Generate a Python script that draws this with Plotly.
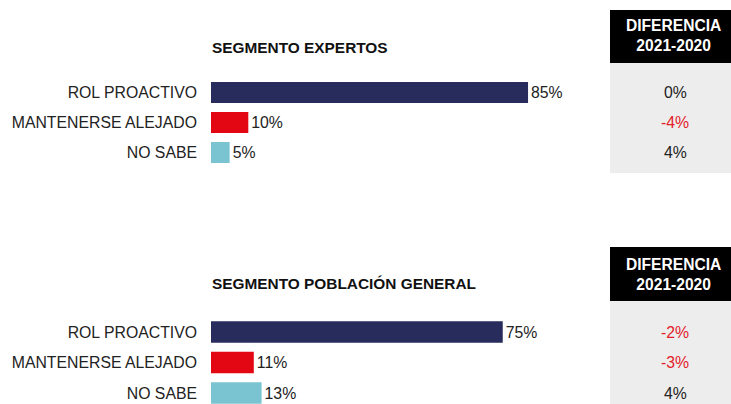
import plotly.graph_objects as go

categories = ["ROL PROACTIVO", "MANTENERSE ALEJADO", "NO SABE"]
expertos_values = [85, 10, 5]
general_values = [75, 11, 13]
expertos_diff = [0, -4, 4]
general_diff = [-2, -3, 4]
bar_colors = ["#272C5C", "#E30613", "#7AC4D2"]
title_top = "SEGMENTO EXPERTOS"
title_bottom = "SEGMENTO POBLACIÓN GENERAL"
header_text = "DIFERENCIA<br>2021-2020"

W, H = 731, 404
FONT = "Liberation Sans, Arial"
LBL = 15.8


def px(x):
    return x / W


def py(y):
    return 1 - y / H


fig = go.Figure()
fig.add_trace(go.Bar(
    y=categories, x=expertos_values, orientation="h",
    marker=dict(color=bar_colors, line=dict(width=0)), width=0.7,
    text=[f"{v}%" for v in expertos_values], textposition="outside",
    textfont=dict(family=FONT, size=LBL, color="#222222"),
    cliponaxis=False, xaxis="x", yaxis="y", hoverinfo="skip",
))
fig.add_trace(go.Bar(
    y=categories, x=general_values, orientation="h",
    marker=dict(color=bar_colors, line=dict(width=0)), width=0.7,
    text=[f"{v}%" for v in general_values], textposition="outside",
    textfont=dict(family=FONT, size=LBL, color="#222222"),
    cliponaxis=False, xaxis="x2", yaxis="y2", hoverinfo="skip",
))

xdom = [px(211), px(600)]
common_x = dict(showgrid=False, zeroline=False, showticklabels=False, showline=False,
                fixedrange=True, automargin=False)
common_y = dict(showgrid=False, zeroline=False, showline=False, ticks="",
                tickfont=dict(family=FONT, size=LBL, color="#222222"),
                ticklabelstandoff=13, type="category", fixedrange=True, automargin=False)

fig.update_layout(
    width=W, height=H,
    margin=dict(l=0, r=0, t=0, b=0, autoexpand=False),
    paper_bgcolor="white", plot_bgcolor="rgba(0,0,0,0)",
    showlegend=False,
    xaxis=dict(domain=xdom, range=[0, 389 / 3.73], anchor="y", **common_x),
    yaxis=dict(domain=[py(167.5), py(77.5)], range=[2.5, -0.5], anchor="x", **common_y),
    xaxis2=dict(domain=xdom, range=[0, 389 / 3.89], anchor="y2", **common_x),
    yaxis2=dict(domain=[0, py(316.75)], range=[2 + 11 / 30.5, -0.5], anchor="x2", **common_y),
)

shapes = [
    dict(type="rect", xref="paper", yref="paper", x0=px(610), x1=1, y0=py(63), y1=py(10),
         fillcolor="black", line=dict(width=0), layer="below"),
    dict(type="rect", xref="paper", yref="paper", x0=px(610), x1=1, y0=py(173), y1=py(63),
         fillcolor="#EDEDED", line=dict(width=0), layer="below"),
    dict(type="rect", xref="paper", yref="paper", x0=px(610), x1=1, y0=py(301), y1=py(247),
         fillcolor="black", line=dict(width=0), layer="below"),
    dict(type="rect", xref="paper", yref="paper", x0=px(610), x1=1, y0=0, y1=py(301),
         fillcolor="#EDEDED", line=dict(width=0), layer="below"),
]
fig.update_layout(shapes=shapes)

ann = []
ann.append(dict(text=f"<b>{title_top}</b>", xref="paper", yref="paper", x=px(210), y=py(47),
                xanchor="left", yanchor="middle", showarrow=False,
                font=dict(family=FONT, size=15.4, color="#111111")))
ann.append(dict(text=f"<b>{title_bottom}</b>", xref="paper", yref="paper", x=px(210), y=py(283),
                xanchor="left", yanchor="middle", showarrow=False,
                font=dict(family=FONT, size=15.4, color="#111111")))
for yc in (36, 274):
    ann.append(dict(text=f"<b>{header_text}</b>", xref="paper", yref="paper", x=px(673), y=py(yc),
                    xanchor="center", yanchor="middle", showarrow=False,
                    font=dict(family=FONT, size=15.6, color="white")))


def diff_color(v):
    return "#E3202A" if v < 0 else "#222222"


for cat, v in zip(categories, expertos_diff):
    ann.append(dict(text=f"{v}%", xref="paper", yref="y", x=px(675), y=cat,
                    xanchor="center", yanchor="middle", showarrow=False,
                    font=dict(family=FONT, size=LBL, color=diff_color(v))))
for cat, v in zip(categories, general_diff):
    ann.append(dict(text=f"{v}%", xref="paper", yref="y2", x=px(675), y=cat,
                    xanchor="center", yanchor="middle", showarrow=False,
                    font=dict(family=FONT, size=LBL, color=diff_color(v))))
fig.update_layout(annotations=ann)

fig.write_html("out.html", config={"displayModeBar": False},
               post_script="document.body.style.margin='0';")
